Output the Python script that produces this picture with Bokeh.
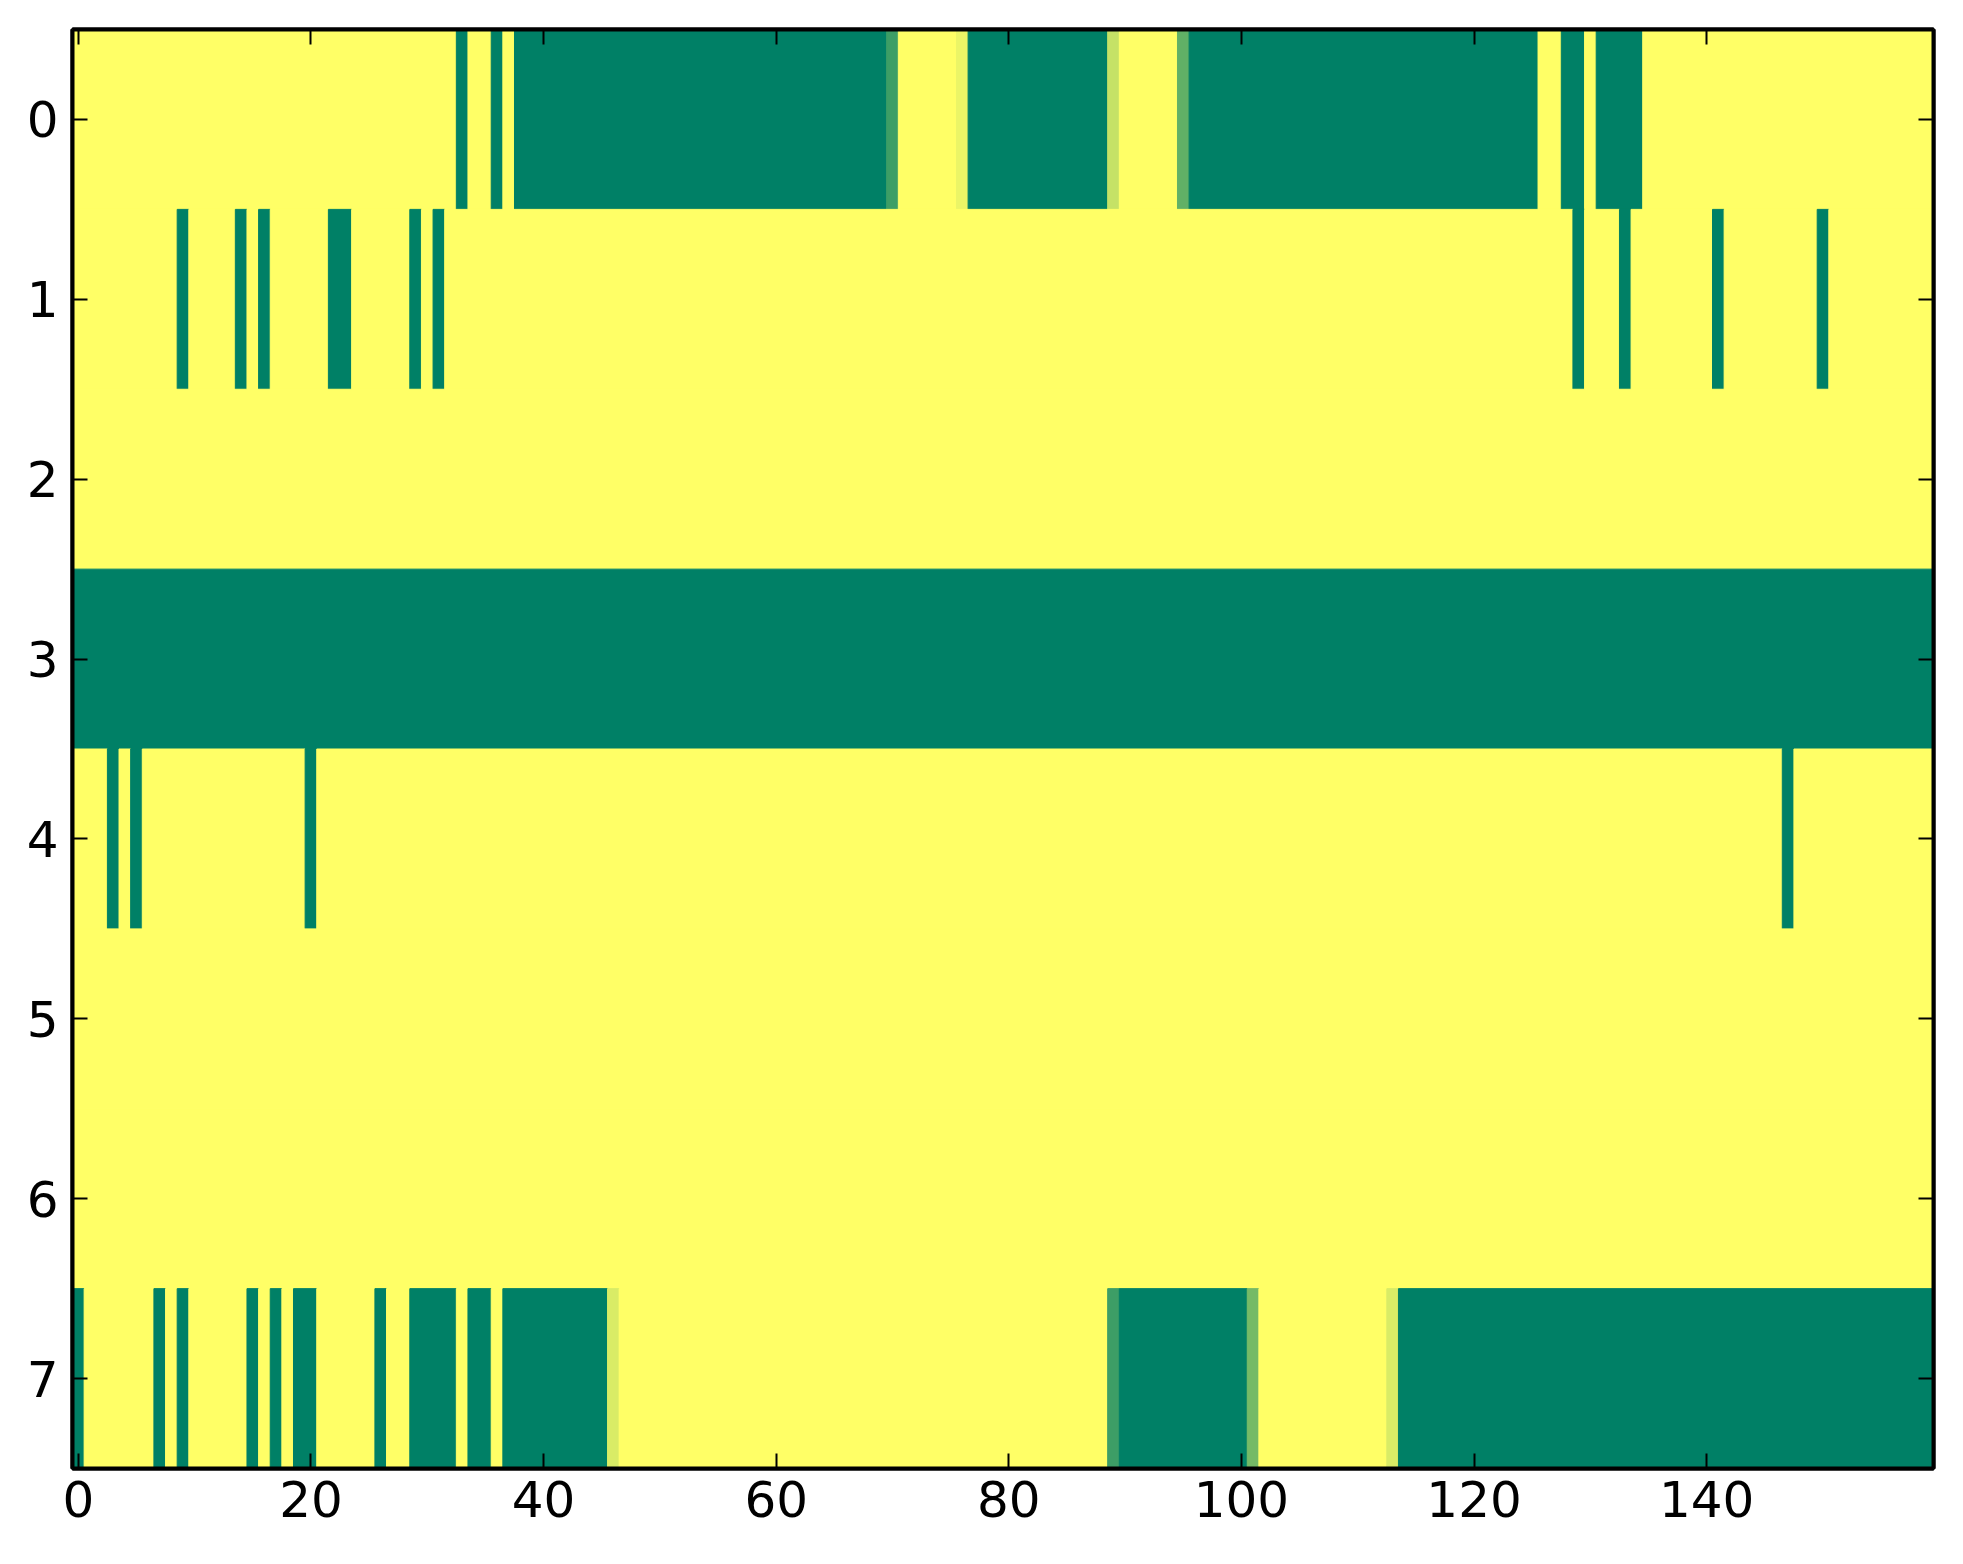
from bokeh.plotting import figure
from bokeh.models import Range1d, LinearAxis, FixedTicker, ColumnDataSource, CustomJSTickFormatter
from bokeh.transform import linear_cmap
from bokeh.embed import file_html
from bokeh.resources import INLINE

# ---- data ----
n_cols = 160
row_labels = [0, 1, 2, 3, 4, 5, 6, 7]
x_ticks = [0, 20, 40, 60, 80, 100, 120, 140]

# each row as runs of [value, number of columns], left to right
row_0_runs = [[1.0, 33], [0.0, 1], [1.0, 2], [0.0, 1], [1.0, 1], [0.0, 32], [0.24, 1],
              [1.0, 5], [0.92, 1], [0.0, 12], [0.77, 1], [1.0, 5], [0.38, 1], [0.0, 30],
              [1.0, 2], [0.0, 2], [1.0, 1], [0.0, 4], [1.0, 25]]
row_1_runs = [[1.0, 9], [0.0, 1], [1.0, 4], [0.0, 1], [1.0, 1], [0.0, 1], [1.0, 5],
              [0.0, 2], [1.0, 5], [0.0, 1], [1.0, 1], [0.0, 1], [1.0, 97], [0.0, 1],
              [1.0, 3], [0.0, 1], [1.0, 7], [0.0, 1], [1.0, 8], [0.0, 1], [1.0, 9]]
row_2_runs = [[1.0, 160]]
row_3_runs = [[0.0, 160]]
row_4_runs = [[1.0, 3], [0.0, 1], [1.0, 1], [0.0, 1], [1.0, 14], [0.0, 1], [1.0, 126],
              [0.0, 1], [1.0, 12]]
row_5_runs = [[1.0, 160]]
row_6_runs = [[1.0, 160]]
row_7_runs = [[0.0, 1], [1.0, 6], [0.0, 1], [1.0, 1], [0.0, 1], [1.0, 5], [0.0, 1],
              [1.0, 1], [0.0, 1], [1.0, 1], [0.0, 2], [1.0, 5], [0.0, 1], [1.0, 2],
              [0.0, 4], [1.0, 1], [0.0, 2], [1.0, 1], [0.0, 9], [0.85, 1], [1.0, 42],
              [0.24, 1], [0.0, 11], [0.46, 1], [1.0, 11], [0.85, 1], [0.0, 46]]

rows = [row_0_runs, row_1_runs, row_2_runs, row_3_runs,
        row_4_runs, row_5_runs, row_6_runs, row_7_runs]

# ---- matplotlib "summer" colormap ----
def summer_hex(t):
    r = t
    g = 0.5 + 0.5 * t
    b = 0.4
    return "#%02x%02x%02x" % (round(r * 255), round(g * 255), round(b * 255))

palette = [summer_hex(i / 255) for i in range(256)]

left, right, top, bottom, vals = [], [], [], [], []
for r, runs in zip(row_labels, rows):
    c = 0
    for v, n in runs:
        left.append(c - 0.5)
        right.append(c + n - 0.5)
        top.append(r - 0.5)
        bottom.append(r + 0.5)
        vals.append(v)
        c += n

src = ColumnDataSource(dict(left=left, right=right, top=top, bottom=bottom, v=vals))

FONT = "DejaVu Sans"
p = figure(frame_width=1861, frame_height=1439,
           x_range=Range1d(-0.5, n_cols - 0.5), y_range=Range1d(7.5, -0.5),
           output_backend="svg", toolbar_location=None,
           min_border_left=72, min_border_top=29, min_border_right=14, min_border_bottom=72)

cmap = linear_cmap("v", palette, 0, 1)
p.quad(left="left", right="right", top="top", bottom="bottom", source=src,
       fill_color=cmap, line_color=cmap, line_width=1)

p.xgrid.visible = False
p.ygrid.visible = False
p.outline_line_color = "black"
p.outline_line_width = 4
p.background_fill_color = "white"
p.border_fill_color = "white"

def style_axis(ax, standoff):
    ax.major_tick_in = 15
    ax.major_tick_out = 0
    ax.major_tick_line_width = 2
    ax.major_tick_line_color = "black"
    ax.minor_tick_line_color = None
    ax.axis_line_width = 4
    ax.axis_line_color = "black"
    ax.major_label_text_font = FONT
    ax.major_label_text_color = "black"
    ax.major_label_standoff = standoff
    ax.major_label_text_font_size = "50px"

p.xaxis.ticker = FixedTicker(ticks=x_ticks)
p.yaxis.ticker = FixedTicker(ticks=row_labels)
style_axis(p.xaxis[0], 12)
style_axis(p.yaxis[0], 14)

blank = CustomJSTickFormatter(code="return ''")
top_axis = LinearAxis(ticker=FixedTicker(ticks=x_ticks), formatter=blank)
style_axis(top_axis, 0)
p.add_layout(top_axis, "above")
right_axis = LinearAxis(ticker=FixedTicker(ticks=row_labels), formatter=blank)
style_axis(right_axis, 0)
p.add_layout(right_axis, "right")

open("out.html", "w").write(file_html(p, INLINE))
